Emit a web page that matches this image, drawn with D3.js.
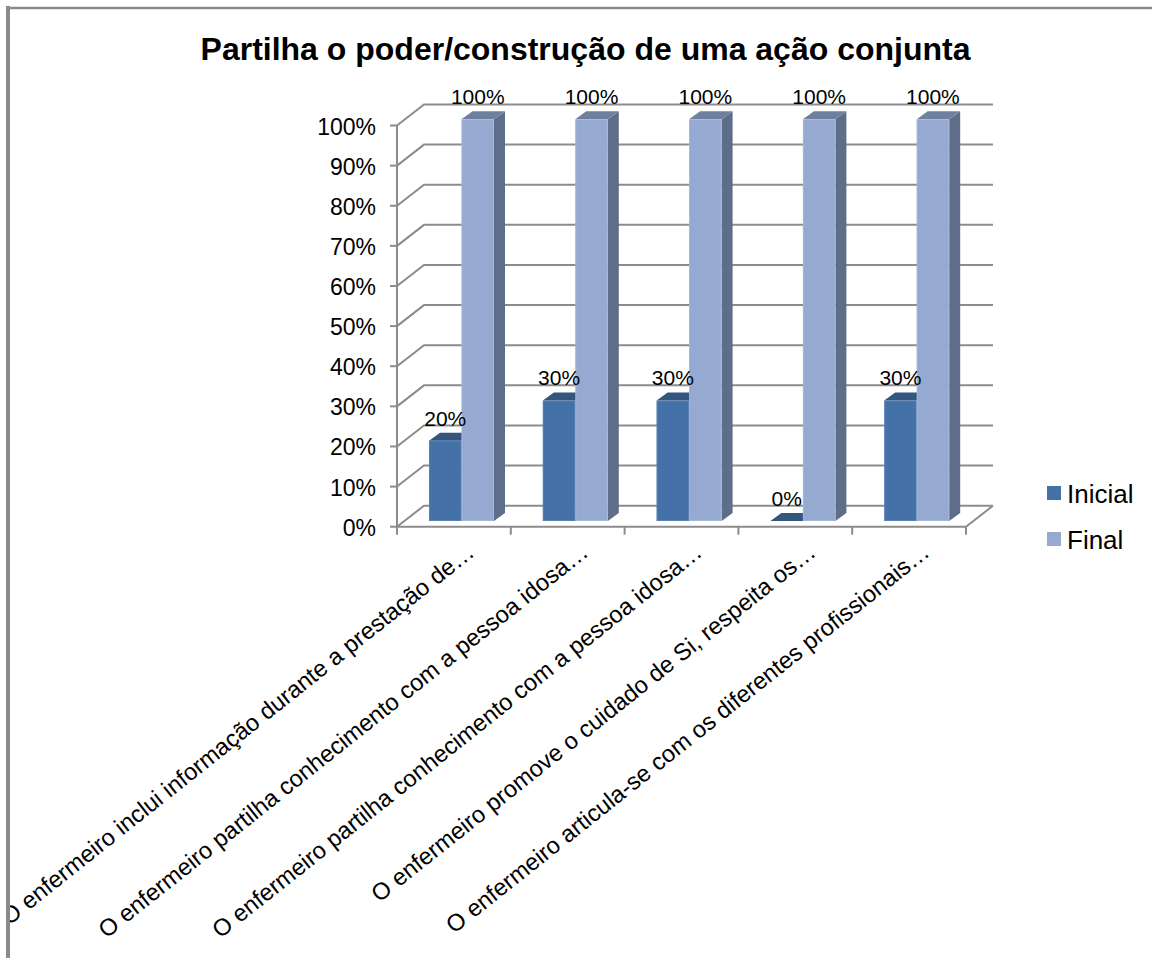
<!DOCTYPE html>
<html><head><meta charset="utf-8">
<script src="https://cdn.jsdelivr.net/npm/d3@7/dist/d3.min.js"></script>
<style>html,body{margin:0;padding:0;background:#fff;overflow:hidden}text{font-family:"Liberation Sans",Arial,sans-serif;fill:#000}</style>
</head><body><svg id="c" width="1152" height="958"></svg>
<script>
const title="Partilha o poder/construção de uma ação conjunta";
const categories=["O enfermeiro inclui informação durante a prestação de…","O enfermeiro partilha conhecimento com a pessoa idosa…","O enfermeiro partilha conhecimento com a pessoa idosa…","O enfermeiro promove o cuidado de Si, respeita os…","O enfermeiro articula-se com os diferentes profissionais…"];
const inicial=[20,30,30,0,30];
const final=[100,100,100,100,100];
const seriesNames=["Inicial","Final"];
const yTicks=[0,10,20,30,40,50,60,70,80,90,100];
const front={x0:397,x1:966,y0:526.7,y1:125.5}, wall={dx:27,dy:-21}, bar={dx:11,dy:-8};
const colors={Inicial:{f:"#4471a8",t:"#33557e",s:"#2f4f75",e:"#6d92c4"},Final:{f:"#95a9d1",t:"#6f809f",s:"#5f6e88",e:"#b4c4e2"}};
const svg=d3.select("#c");
svg.append("defs").append("clipPath").attr("id","frameClip").append("rect").attr("x",10).attr("y",10).attr("width",1142).attr("height",948);
const x=d3.scaleBand().domain(d3.range(categories.length)).range([front.x0,front.x1]);
const y=d3.scaleLinear().domain([0,100]).range([front.y0,front.y1]);
const yBar=d3.scaleLinear().domain([0,100]).range([521,119.3]);
const s=d3.scaleBand().domain(seriesNames).range([0,65]);
const grey="#8c8c8c";
// frame
svg.append("path").attr("d","M8,958V6").attr("fill","none").attr("stroke","#8a8a8a").attr("stroke-width",4);
svg.append("path").attr("d","M6,8H1152").attr("fill","none").attr("stroke","#8a8a8a").attr("stroke-width",2.5);
// title
svg.append("text").attr("x",585.5).attr("y",60).attr("text-anchor","middle").attr("font-weight","bold").attr("font-size",32).text(title);
// grid
const g=svg.append("g").attr("fill","none").attr("stroke",grey).attr("stroke-width",2);
yTicks.forEach(t=>{
  g.append("path").attr("d",`M${front.x0},${y(t)}l${wall.dx},${wall.dy}H${front.x1+wall.dx}`);
  g.append("path").attr("d",`M${front.x0-7},${y(t)}H${front.x0}`);
  svg.append("text").attr("x",front.x0-21).attr("y",y(t)+9).attr("text-anchor","end").attr("font-size",23).text(t+"%");
});
g.append("path").attr("d",`M${front.x0},${front.y0}V${front.y1}`);
g.append("path").attr("d",`M${front.x0},${front.y0}H${front.x1}l${wall.dx},${wall.dy}`);
x.domain().concat(categories.length).forEach(i=>{
  const px=i<categories.length?x(i):front.x1;
  g.append("path").attr("d",`M${px},${front.y0}v8`);
});
// bars
const base=yBar(0);
function draw(name,vals){
  const c=colors[name];
  vals.forEach((v,i)=>{
    const x0=x(i)+32+s(name),w=s.bandwidth(),t=yBar(v);
    const b=svg.append("g");
    b.append("path").attr("fill",c.s).attr("d",`M${x0+w},${t}l${bar.dx},${bar.dy}V${base+bar.dy}l${-bar.dx},${-bar.dy}Z`);
    b.append("path").attr("fill",c.t).attr("d",`M${x0},${t}l${bar.dx},${bar.dy}h${w}l${-bar.dx},${-bar.dy}Z`);
    b.append("rect").attr("x",x0).attr("y",t).attr("width",w).attr("height",Math.max(base-t,0)).attr("fill",c.f);
    if(v>0) b.append("rect").attr("x",x0+.5).attr("y",t+.5).attr("width",w-1).attr("height",Math.max(base-t-1,0)).attr("fill","none").attr("stroke",c.e).attr("stroke-opacity",.5);
  });
}
draw("Inicial",inicial);draw("Final",final);
// data labels
[["Inicial",inicial],["Final",final]].forEach(([n,vals])=>vals.forEach((v,i)=>{
  svg.append("text").attr("x",x(i)+32+s(n)+s.bandwidth()/2).attr("y",yBar(v)-15).attr("text-anchor","middle").attr("font-size",21).text(v+"%");
}));
// category labels
const labelLayer=svg.append("g").attr("clip-path","url(#frameClip)");
categories.forEach((c,i)=>{
  const ax=x(i)+x.bandwidth()/2+22, ay=front.y0+28;
  labelLayer.append("text").attr("transform",`translate(${ax},${ay}) rotate(-38.5)`).attr("text-anchor","end").attr("font-size",23.7).attr("text-rendering","geometricPrecision").text(c);
});
// legend
seriesNames.forEach((n,i)=>{
  const ly=494+i*46;
  svg.append("rect").attr("x",1047).attr("y",ly-8).attr("width",14).attr("height",14).attr("fill",colors[n].f);
  svg.append("text").attr("x",1067).attr("y",ly+9).attr("font-size",26).text(n);
});
</script></body></html>
